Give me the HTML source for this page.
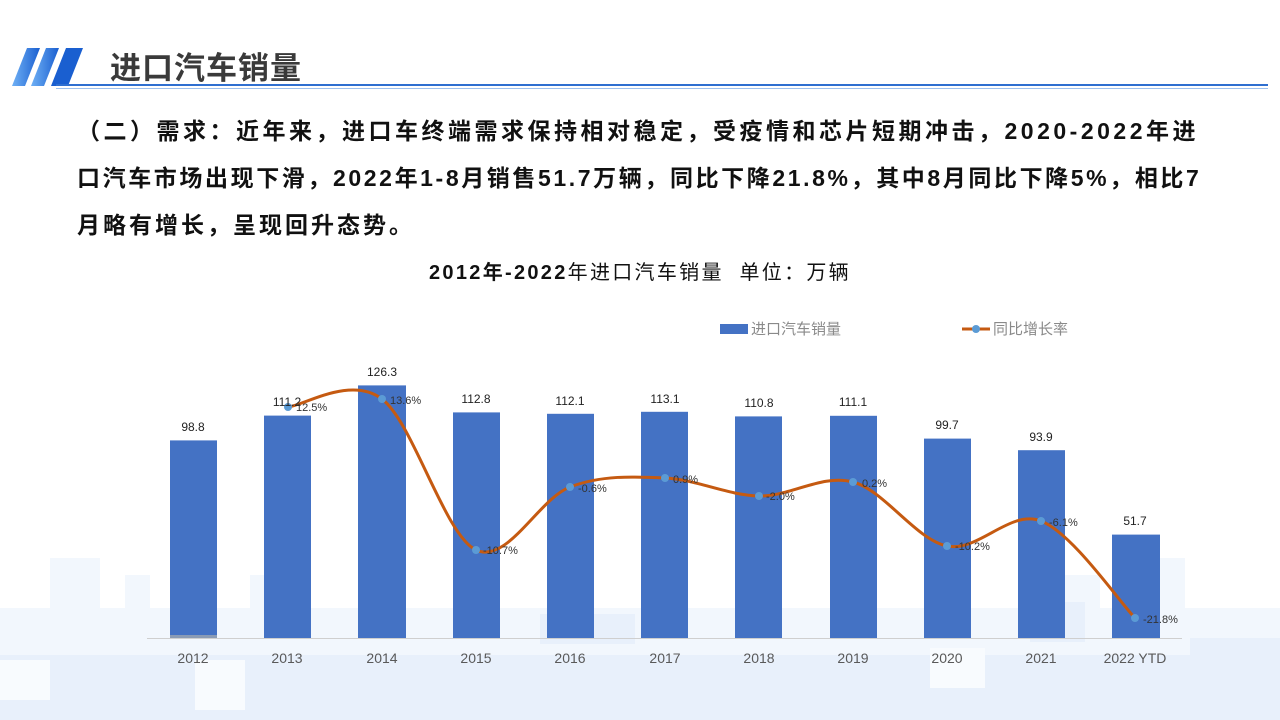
<!DOCTYPE html>
<html><head><meta charset="utf-8"><style>
*{margin:0;padding:0}
body{width:1280px;height:720px;position:relative;overflow:hidden;background:#fff;font-family:"Liberation Sans","Noto Sans CJK SC",sans-serif}
.t{position:absolute;white-space:nowrap}
.b{position:absolute;left:77px;font-size:23px;font-weight:bold;color:#111;white-space:nowrap;line-height:30px}
</style></head><body>
<svg width="1280" height="720" style="position:absolute;left:0;top:0">
<defs><linearGradient id="g" x1="0" x2="1"><stop offset="0" stop-color="#6fb0f5"/><stop offset="1" stop-color="#1a5fd0"/></linearGradient></defs>
<g fill="#f2f7fd">
<rect x="0" y="608" width="1280" height="112"/>
<rect x="50" y="558" width="50" height="60"/>
<rect x="125" y="575" width="25" height="40"/>
<rect x="250" y="575" width="45" height="40"/>
<rect x="440" y="613" width="60" height="20"/>
<rect x="1060" y="575" width="40" height="40"/>
<rect x="1135" y="558" width="50" height="60"/>
</g>
<g fill="#e8f0fb">
<rect x="0" y="655" width="1280" height="65"/>
<rect x="540" y="614" width="95" height="30"/>
<rect x="1030" y="602" width="55" height="40"/>
<rect x="1190" y="638" width="90" height="82"/>
</g>
<g fill="#f8fbfe">
<rect x="0" y="660" width="50" height="40"/>
<rect x="195" y="660" width="50" height="50"/>
<rect x="930" y="648" width="55" height="40"/>
</g>
<polygon points="12,86 27,48 40,48 25,86" fill="url(#g)"/>
<polygon points="31,86 46,48 59,48 44,86" fill="url(#g)"/>
<polygon points="51,86 66,48 83,48 68,86" fill="#1a5fd0"/>
<rect x="56" y="84" width="1212" height="2" fill="#2f6fd0"/>
<rect x="56" y="88" width="1212" height="1" fill="#9ec1ee"/>
<line x1="147" y1="638.5" x2="1182" y2="638.5" stroke="#cfcfcf" stroke-width="1"/>
<g fill="#4472c4">
<rect x="170" y="440.4" width="47" height="197.6"/>
<rect x="264" y="415.6" width="47" height="222.4"/>
<rect x="358" y="385.4" width="48" height="252.6"/>
<rect x="453" y="412.4" width="47" height="225.6"/>
<rect x="547" y="413.8" width="47" height="224.2"/>
<rect x="641" y="411.8" width="47" height="226.2"/>
<rect x="735" y="416.4" width="47" height="221.6"/>
<rect x="830" y="415.8" width="47" height="222.2"/>
<rect x="924" y="438.6" width="47" height="199.4"/>
<rect x="1018" y="450.2" width="47" height="187.8"/>
<rect x="1112" y="534.6" width="48" height="103.4"/>
</g>
<rect x="170" y="635" width="47" height="3" fill="#8a9bb5"/>
<path d="M288,407 C303.7,405.7 350.7,375.2 382,399 C413.3,422.8 444.7,535.3 476,550 C507.3,564.7 538.5,499 570,487 C601.5,475 633.5,476.5 665,478 C696.5,479.5 727.7,495.3 759,496 C790.3,496.7 821.7,473.7 853,482 C884.3,490.3 915.7,539.5 947,546 C978.3,552.5 1009.7,509 1041,521 C1072.3,533 1119.3,601.8 1135,618" fill="none" stroke="#c55a11" stroke-width="3"/>
<g fill="#5b9bd5">
<circle cx="288" cy="407" r="4"/><circle cx="382" cy="399" r="4"/><circle cx="476" cy="550" r="4"/><circle cx="570" cy="487" r="4"/><circle cx="665" cy="478" r="4"/><circle cx="759" cy="496" r="4"/><circle cx="853" cy="482" r="4"/><circle cx="947" cy="546" r="4"/><circle cx="1041" cy="521" r="4"/><circle cx="1135" cy="618" r="4"/>
</g>
<rect x="720" y="324" width="28" height="10" fill="#4472c4"/>
<line x1="962" y1="329" x2="990" y2="329" stroke="#c55a11" stroke-width="3"/>
<circle cx="976" cy="329" r="4" fill="#5b9bd5"/>
<g font-family="Liberation Sans, Noto Sans CJK SC, sans-serif" font-size="12" fill="#222" text-anchor="middle">
<text x="193" y="431">98.8</text><text x="287" y="406">111.2</text><text x="382" y="376">126.3</text><text x="476" y="403">112.8</text><text x="570" y="405">112.1</text><text x="665" y="403">113.1</text><text x="759" y="407">110.8</text><text x="853" y="406">111.1</text><text x="947" y="429">99.7</text><text x="1041" y="441">93.9</text><text x="1135" y="525">51.7</text>
</g>
<g font-family="Liberation Sans, Noto Sans CJK SC, sans-serif" font-size="11" fill="#333">
<text x="296" y="411">12.5%</text><text x="390" y="404">13.6%</text><text x="483" y="554">-10.7%</text><text x="578" y="492">-0.6%</text><text x="673" y="483">0.9%</text><text x="766" y="500">-2.0%</text><text x="862" y="487">0.2%</text><text x="955" y="550">-10.2%</text><text x="1049" y="526">-6.1%</text><text x="1143" y="623">-21.8%</text>
</g>
<g font-family="Liberation Sans, Noto Sans CJK SC, sans-serif" font-size="14" fill="#595959" text-anchor="middle">
<text x="193" y="663">2012</text><text x="287" y="663">2013</text><text x="382" y="663">2014</text><text x="476" y="663">2015</text><text x="570" y="663">2016</text><text x="665" y="663">2017</text><text x="759" y="663">2018</text><text x="853" y="663">2019</text><text x="947" y="663">2020</text><text x="1041" y="663">2021</text><text x="1135" y="663">2022 YTD</text>
</g>
<g font-family="Liberation Sans, Noto Sans CJK SC, sans-serif" font-size="15" fill="#8a8a8a">
<text x="751" y="334">进口汽车销量</text><text x="993" y="334">同比增长率</text>
</g>
</svg>
<div class="t" style="left:110px;top:43px;font-size:31px;font-weight:bold;color:#3a3a3a;letter-spacing:1px">进口汽车销量</div>
<div class="b" style="top:116px;letter-spacing:3.5px">（二）需求：近年来，进口车终端需求保持相对稳定，受疫情和芯片短期冲击，2020-2022年进</div>
<div class="b" style="top:163px;letter-spacing:2.6px">口汽车市场出现下滑，2022年1-8月销售51.7万辆，同比下降21.8%，其中8月同比下降5%，相比7</div>
<div class="b" style="top:210px;letter-spacing:3px">月略有增长，呈现回升态势。</div>
<div class="t" style="left:0;width:1280px;text-align:center;top:256px;font-size:20px;color:#111;letter-spacing:2.3px"><b>2012年-2022</b>年进口汽车销量&nbsp; 单位：万辆</div>
</body></html>
